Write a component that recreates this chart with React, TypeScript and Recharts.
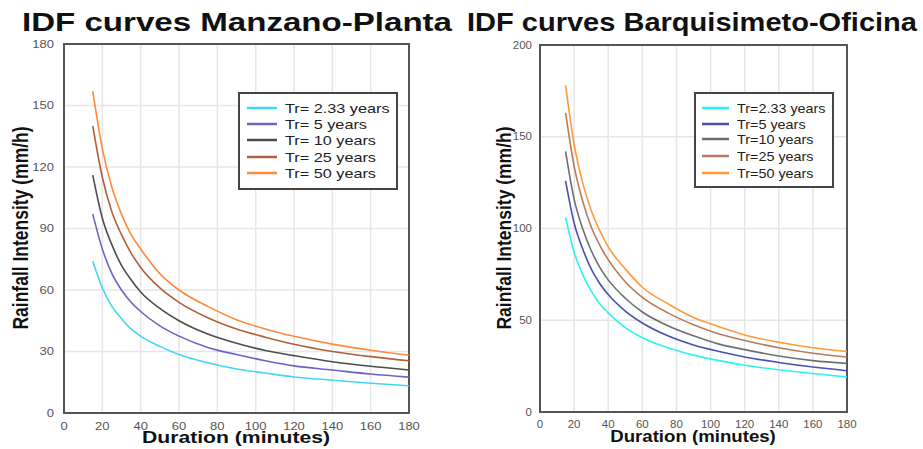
import React from "react";
import { LineChart, Line, XAxis, YAxis, CartesianGrid, ReferenceArea, Legend } from "recharts";

// Storm durations (minutes) at which intensities are tabulated
const durations = [15, 20, 25, 30, 35, 40, 50, 60, 75, 90, 105, 120, 140, 160, 180];

// Manzano-Planta station, intensity (mm/h) per return period
const mzTr233 = [74, 61, 52, 46, 41, 37.5, 32.5, 28.5, 24.5, 21.5, 19.5, 17.6, 16, 14.5, 13.3];
const mzTr5 = [97, 80, 68, 60, 54, 49.5, 42.5, 37.5, 32, 28.5, 25.5, 23, 21, 19, 17.5];
const mzTr10 = [116, 95, 82, 72, 65, 59, 51, 45, 38.5, 34, 30.5, 28, 25, 22.8, 21];
const mzTr25 = [140, 115, 98, 87, 78, 71, 61, 54, 46.5, 41, 37, 33.5, 30, 27.5, 25.5];
const mzTr50 = [157, 129, 110, 97, 87, 80, 68, 60, 52, 45.5, 41, 37.4, 33.6, 30.6, 28.2];

// Barquisimeto-Oficina station, intensity (mm/h) per return period
const bqTr233 = [106, 87, 75, 66, 59, 54, 46, 40.5, 35, 31, 28, 25.5, 23, 21, 19];
const bqTr5 = [126, 103, 89, 78, 70, 64, 55, 48.5, 41.5, 36.5, 33, 30, 27, 24.5, 22.5];
const bqTr10 = [142, 116, 100, 88, 79, 72, 62, 54.5, 47, 41.5, 37, 34, 30.5, 28, 26.5];
const bqTr25 = [163, 134, 115, 101, 91, 83, 71, 62.5, 54, 47.5, 42.5, 39, 35, 32, 30];
const bqTr50 = [178, 146, 125, 110, 99, 90, 78, 68, 59, 51.5, 46.5, 42, 38, 35, 33];

const xTicks = [0, 20, 40, 60, 80, 100, 120, 140, 160, 180];
const mzYTicks = [0, 30, 60, 90, 120, 150, 180];
const bqYTicks = [0, 50, 100, 150, 200];

const mzLabels = ["Tr= 2.33 years", "Tr= 5 years", "Tr= 10 years", "Tr= 25 years", "Tr= 50 years"];
const bqLabels = ["Tr=2.33 years", "Tr=5 years", "Tr=10 years", "Tr=25 years", "Tr=50 years"];

const mzColors = ["#3fd7f5", "#6f62c6", "#4d4d4d", "#b0603a", "#ff8a3d"];
const bqColors = ["#2cf2f2", "#4b50b0", "#6f6f6f", "#b67a5c", "#ff9a3a"];

const keys = ["tr233", "tr5", "tr10", "tr25", "tr50"];

const buildRows = (series: number[][]) =>
  durations.map((d, i) => {
    const row: Record<string, number> = { d };
    keys.forEach((k, j) => {
      row[k] = series[j][i];
    });
    return row;
  });

const mzData = buildRows([mzTr233, mzTr5, mzTr10, mzTr25, mzTr50]);
const bqData = buildRows([bqTr233, bqTr5, bqTr10, bqTr25, bqTr50]);

const FONT = "'Liberation Sans', Arial, sans-serif";

// Text stretched horizontally around its anchor point
function WideText(props: {
  x: number;
  y: number;
  sx: number;
  size: number;
  weight?: string | number;
  anchor?: "start" | "middle" | "end";
  fill?: string;
  rotate?: number;
  children: React.ReactNode;
}) {
  const { x, y, sx, size, weight = "normal", anchor = "start", fill = "#111", rotate = 0, children } = props;
  return (
    <g transform={`translate(${x},${y}) scale(${sx},1) rotate(${rotate})`}>
      <text textAnchor={anchor} fontSize={size} fontWeight={weight} fill={fill} fontFamily={FONT}>
        {children}
      </text>
    </g>
  );
}

const makeTick = (sx: number, anchor: "middle" | "end", dy: number) => (props: any) => {
  const { x, y, payload } = props;
  return (
    <g transform={`translate(${x},${y}) scale(${sx},1)`}>
      <text textAnchor={anchor} dy={dy} fontSize={10} fill="#555" fontFamily={FONT}>
        {payload.value}
      </text>
    </g>
  );
};

type PanelProps = {
  left: number;
  width: number;
  margin: { top: number; right: number; bottom: number; left: number };
  yAxisWidth: number;
  xAxisHeight: number;
  data: Record<string, number>[];
  yMax: number;
  yTicks: number[];
  colors: string[];
  labels: string[];
  sx: number;
  yTickMargin: number;
  xTickMargin: number;
  legendBox: { left: number; top: number; width: number; height: number; lineX: number; lineW: number; textX: number; rows: number[] };
  strokeWidth: number;
};

function Panel(p: PanelProps) {
  const lb = p.legendBox;
  const renderLegend = () => (
    <svg width={lb.width} height={lb.height} style={{ display: "block" }}>
      <rect x={1} y={1} width={lb.width - 2} height={lb.height - 2} fill="#fff" stroke="#444" strokeWidth={2} />
      {p.labels.map((label, i) => (
        <g key={label}>
          <line x1={lb.lineX} x2={lb.lineX + lb.lineW} y1={lb.rows[i]} y2={lb.rows[i]} stroke={p.colors[i]} strokeWidth={2.5} />
          <WideText x={lb.textX} y={lb.rows[i] + 4.5} sx={p.sx} size={12.5} fill="#222">
            {label}
          </WideText>
        </g>
      ))}
    </svg>
  );
  return (
    <div style={{ position: "absolute", left: p.left, top: 0 }}>
      <LineChart width={p.width} height={449} data={p.data} margin={p.margin}>
        <CartesianGrid stroke="#e6e6e6" strokeWidth={1.5} />
        <XAxis
          type="number"
          dataKey="d"
          domain={[0, 180]}
          ticks={xTicks}
          height={p.xAxisHeight}
          tickSize={0}
          tickMargin={p.xTickMargin}
          axisLine={false}
          tick={makeTick(p.sx, "middle", 3.5)}
          interval={0}
        />
        <YAxis
          type="number"
          domain={[0, p.yMax]}
          ticks={p.yTicks}
          width={p.yAxisWidth}
          tickSize={0}
          tickMargin={p.yTickMargin}
          axisLine={false}
          tick={makeTick(p.sx, "end", 3.5)}
          interval={0}
        />
        <ReferenceArea x1={0} x2={180} y1={0} y2={p.yMax} fill="none" stroke="#555" strokeWidth={2} ifOverflow="visible" />
        {keys.map((k, i) => (
          <Line
            key={k}
            dataKey={k}
            type="monotone"
            stroke={p.colors[i]}
            strokeWidth={p.strokeWidth}
            dot={false}
            isAnimationActive={false}
          />
        ))}
        <Legend
          layout="horizontal"
          verticalAlign="middle"
          align="center"
          content={renderLegend}
          wrapperStyle={{ position: "absolute", left: lb.left, top: lb.top, width: lb.width, height: lb.height }}
        />
      </LineChart>
    </div>
  );
}

export default function App() {
  return (
    <div style={{ position: "absolute", left: 0, top: 0, width: 923, height: 449, background: "#fff", overflow: "hidden" }}>
      <Panel
        left={0}
        width={460}
        margin={{ top: 44, right: 51, bottom: 0, left: 0 }}
        yAxisWidth={64}
        xAxisHeight={36}
        data={mzData}
        yMax={180}
        yTicks={mzYTicks}
        colors={mzColors}
        labels={mzLabels}
        sx={1.3}
        yTickMargin={10}
        xTickMargin={13}
        strokeWidth={1.6}
        legendBox={{ left: 238, top: 92, width: 160, height: 98, lineX: 9, lineW: 30, textX: 47, rows: [16, 32, 48, 65, 81] }}
      />
      <Panel
        left={460}
        width={463}
        margin={{ top: 45, right: 76, bottom: 0, left: 0 }}
        yAxisWidth={80}
        xAxisHeight={37}
        data={bqData}
        yMax={200}
        yTicks={bqYTicks}
        colors={bqColors}
        labels={bqLabels}
        sx={1.15}
        yTickMargin={8}
        xTickMargin={12}
        strokeWidth={1.6}
        legendBox={{ left: 234, top: 92, width: 140, height: 96, lineX: 8, lineW: 27, textX: 43, rows: [16, 32, 47, 64, 81] }}
      />
      <svg width={923} height={449} style={{ position: "absolute", left: 0, top: 0, pointerEvents: "none" }}>
        <text x={22} y={31} fontSize={25} fontWeight="bold" fill="#111" fontFamily={FONT} textLength={430} lengthAdjust="spacingAndGlyphs">
          IDF curves Manzano-Planta
        </text>
        <text x={467} y={31} fontSize={25} fontWeight="bold" fill="#111" fontFamily={FONT} textLength={450} lengthAdjust="spacingAndGlyphs">
          IDF curves Barquisimeto-Oficina
        </text>
        <WideText x={236} y={443} sx={1.26} size={16.8} weight="bold" anchor="middle">
          Duration (minutes)
        </WideText>
        <WideText x={693} y={442} sx={1.11} size={16.8} weight="bold" anchor="middle">
          Duration (minutes)
        </WideText>
        <WideText x={28} y={228} sx={1.3} size={17.5} weight="bold" anchor="middle" rotate={-90}>
          Rainfall Intensity (mm/h)
        </WideText>
        <WideText x={511} y={228} sx={1.15} size={17.5} weight="bold" anchor="middle" rotate={-90}>
          Rainfall Intensity (mm/h)
        </WideText>
      </svg>
    </div>
  );
}
